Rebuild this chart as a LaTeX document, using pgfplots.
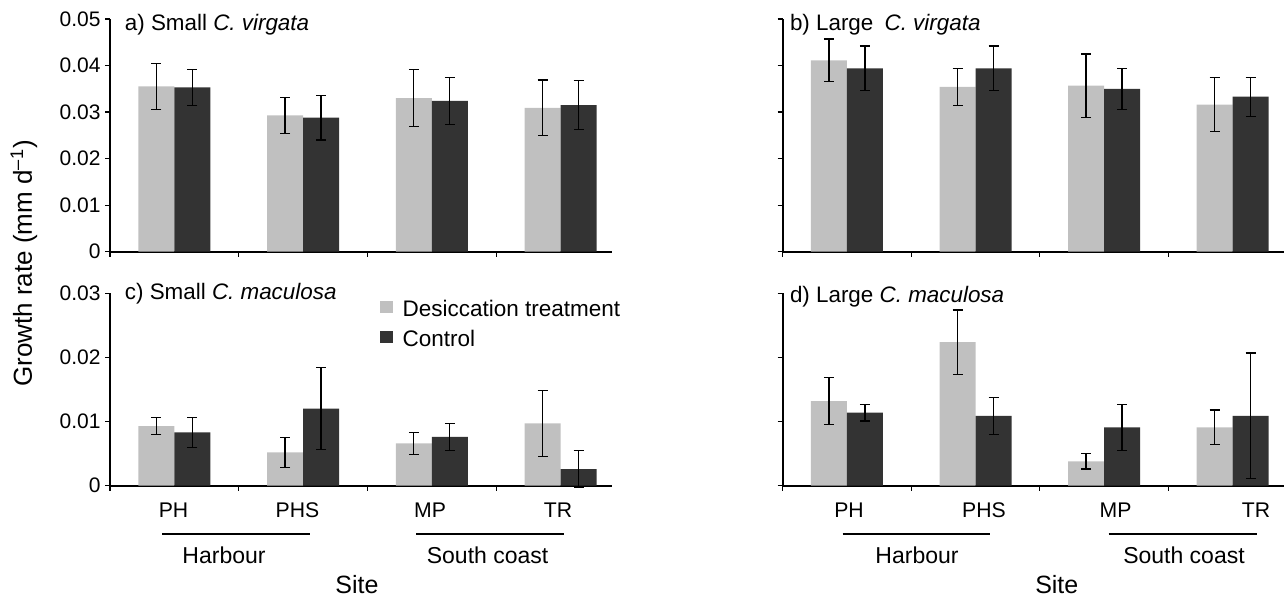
\documentclass[border=0pt]{standalone}
\usepackage{pgfplots}
\pgfplotsset{compat=1.18}
\usepackage{fontspec}
\setmainfont{Liberation Sans}
\definecolor{gl}{HTML}{C0C0C0}
\definecolor{gd}{HTML}{333333}
\pgfplotsset{
  panel/.style={
    scale only axis, width=251pt,
    axis lines=left, axis line style={-, line width=1pt, black},
    xmin=-0.5, xmax=3.4, ymin=0,
    xtick={-0.5,0.5,1.5,2.5}, xticklabels={},
    major tick length=2.5pt, tick align=outside,
    tick style={line width=0.6pt, black},
    ybar, bar width=18pt,
    scaled y ticks=false, clip=false,
    yticklabel style={font=\fontsize{10.5}{12}\selectfont, inner sep=2pt},
    anchor=south west,
  },
  eb/.style={/pgfplots/error bars/.cd, y dir=both, y explicit,
    error bar style={line width=0.6pt, black},
    error mark options={rotate=90, mark size=2.5pt, line width=0.6pt, black}, /pgfplots/.cd},
}
\begin{document}
\begin{tikzpicture}
\useasboundingbox (0,0) rectangle (642.5pt,300.5pt);
% ---------- a
\begin{axis}[panel, at={(55pt,174.65pt)}, height=116.35pt, ymax=0.05,
  ytick={0,0.01,0.02,0.03,0.04,0.05}, yticklabels={0,0.01,0.02,0.03,0.04,0.05}]
\addplot[fill=gl, draw=none, bar shift=-9pt, eb] coordinates {
 (0,0.0355) +- (0,0.0050) (1,0.0293) +- (0,0.0039) (2,0.0330) +- (0,0.0061) (3,0.0309) +- (0,0.0060)};
\addplot[fill=gd, draw=none, bar shift=9pt, eb] coordinates {
 (0,0.0353) +- (0,0.0038) (1,0.0288) +- (0,0.0048) (2,0.0324) +- (0,0.0050) (3,0.0315) +- (0,0.0052)};
\end{axis}
% ---------- b
\begin{axis}[panel, at={(391.35pt,174.65pt)}, width=250.65pt, height=116.35pt, ymax=0.05,
  ytick={0,0.01,0.02,0.03,0.04,0.05}, yticklabels={}]
\addplot[fill=gl, draw=none, bar shift=-9pt, eb] coordinates {
 (0,0.0411) +- (0,0.0046) (1,0.0354) +- (0,0.0040) (2,0.0357) +- (0,0.0068) (3,0.0316) +- (0,0.0058)};
\addplot[fill=gd, draw=none, bar shift=9pt, eb] coordinates {
 (0,0.0394) +- (0,0.0048) (1,0.0394) +- (0,0.0048) (2,0.0350) +- (0,0.0044) (3,0.0333) +- (0,0.0042)};
\end{axis}
% ---------- c
\begin{axis}[panel, at={(55pt,57.65pt)}, height=96.2pt, ymax=0.03,
  ytick={0,0.01,0.02,0.03}, yticklabels={0,0.01,0.02,0.03},
  legend style={at={(axis description cs:0.537,0.985)}, anchor=north west, draw=none, fill=none,
    inner sep=0pt, font=\fontsize{11.25}{13.5}\selectfont, row sep=1pt,
    /tikz/every odd column/.append style={column sep=3pt}},
  legend cell align=left,
  legend image code/.code={\fill[#1] (0pt,-1.5pt) rectangle (6.3pt,4.5pt);}]
\addplot[forget plot, fill=gl, draw=none, bar shift=-9pt, eb] coordinates {
 (0,0.0093) +- (0,0.0013) (1,0.0052) +- (0,0.0023) (2,0.0066) +- (0,0.0017) (3,0.0097) +- (0,0.0052)};
\addplot[forget plot, fill=gd, draw=none, bar shift=9pt, eb] coordinates {
 (0,0.0083) +- (0,0.0023) (1,0.0120) +- (0,0.0064) (2,0.0076) +- (0,0.0021) (3,0.0026) +- (0,0.0029)};
\addlegendimage{fill=gl, draw=none}
\addlegendentry{Desiccation treatment}
\addlegendimage{fill=gd, draw=none}
\addlegendentry{Control}
\end{axis}
% ---------- d
\begin{axis}[panel, at={(391.35pt,57.65pt)}, width=250.65pt, height=96.2pt, ymax=0.03,
  ytick={0,0.01,0.02,0.03}, yticklabels={}]
\addplot[fill=gl, draw=none, bar shift=-9pt, eb] coordinates {
 (0,0.0132) +- (0,0.0037) (1,0.0224) +- (0,0.0050) (2,0.0038) +- (0,0.0012) (3,0.0091) +- (0,0.0027)};
\addplot[fill=gd, draw=none, bar shift=9pt, eb] coordinates {
 (0,0.0114) +- (0,0.0013) (1,0.0109) +- (0,0.0029) (2,0.0091) +- (0,0.0036) (3,0.0109) +- (0,0.0098)};
\end{axis}
% ---------- titles
\begin{scope}[every node/.style={font=\fontsize{11.2}{13}\selectfont, anchor=base west, inner sep=0pt}]
\node at (62.25pt,285pt) {a) Small \textit{C. virgata}};
\node at (394.8pt,285pt) {b) Large\enspace\textit{C. virgata}};
\node at (62.25pt,151pt) {c) Small \textit{C. maculosa}};
\node at (394.8pt,149.5pt) {d) Large \textit{C. maculosa}};
\end{scope}
% ---------- y label
\node[rotate=90, font=\fontsize{13}{15}\selectfont] at (12pt,168.75pt) {Growth rate (mm d\textsuperscript{–1})};
% ---------- site labels
\begin{scope}[every node/.style={font=\fontsize{10.6}{12}\selectfont, inner sep=0pt}]
\node at (86.75pt,45.5pt) {PH};
\node at (148.75pt,45.5pt) {PHS};
\node at (215pt,45.5pt) {MP};
\node at (279pt,45.5pt) {TR};
\node at (424.5pt,45.5pt) {PH};
\node at (492pt,45.5pt) {PHS};
\node at (557.75pt,45.5pt) {MP};
\node at (628pt,45.5pt) {TR};
\end{scope}
\draw[line width=1pt] (81pt,33.5pt) -- (155pt,33.5pt);
\draw[line width=1pt] (208pt,33.5pt) -- (282pt,33.5pt);
\draw[line width=1pt] (421.3pt,33.5pt) -- (495pt,33.5pt);
\draw[line width=1pt] (554.3pt,33.5pt) -- (628.5pt,33.5pt);
\begin{scope}[every node/.style={font=\fontsize{11.5}{13}\selectfont, inner sep=0pt}]
\node at (112pt,23pt) {Harbour};
\node at (243.8pt,23pt) {South coast};
\node at (458.5pt,23pt) {Harbour};
\node at (592pt,23pt) {South coast};
\end{scope}
\node[font=\fontsize{12.5}{15}\selectfont, inner sep=0pt] at (178.5pt,8pt) {Site};
\node[font=\fontsize{12.5}{15}\selectfont, inner sep=0pt] at (528.4pt,8pt) {Site};
\end{tikzpicture}
\end{document}
